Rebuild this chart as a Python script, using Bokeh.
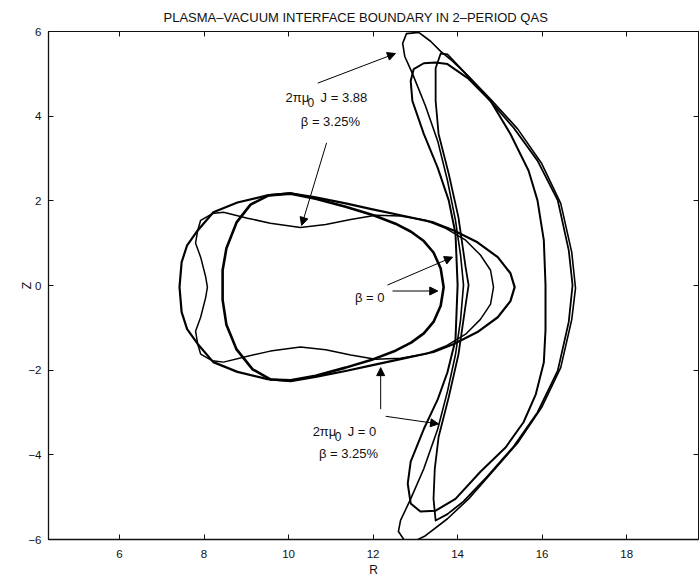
from bokeh.plotting import figure
from bokeh.models import (Range1d, LinearAxis, FixedTicker, Label, Arrow, NormalHead)
from bokeh.embed import file_html
from bokeh.resources import INLINE

# ---- Boundary cross-sections (R, Z) ----
# phi = 0 ("bean") sections
bean_vac_R = [13.67, 13.60, 13.43, 13.20, 12.90, 12.53, 12.01, 11.35, 10.64, 10.05,
              9.53, 9.10, 8.77, 8.53, 8.44, 8.44, 8.53, 8.77, 9.15, 9.57, 10.05,
              10.64, 11.35, 12.01, 12.53, 12.90, 13.20, 13.43, 13.60]
bean_vac_Z = [-0.04, 0.40, 0.78, 1.05, 1.27, 1.46, 1.66, 1.86, 2.05, 2.17,
              2.13, 1.91, 1.49, 0.88, 0.36, -0.34, -0.93, -1.51, -1.98, -2.22, -2.24,
              -2.13, -1.94, -1.74, -1.54, -1.35, -1.13, -0.86, -0.48]

bean_j0_R = [15.35, 15.25, 14.95, 14.47, 13.91, 13.43, 12.65, 11.99, 11.35, 10.64, 10.05,
             9.50, 8.79, 8.22, 7.85, 7.60, 7.47, 7.42,
             7.47, 7.60, 7.85, 8.22, 8.79, 9.50, 10.05, 10.64, 11.35, 11.99, 12.65,
             13.43, 13.91, 14.47, 14.95, 15.25]
bean_j0_Z = [-0.04, 0.29, 0.67, 1.02, 1.30, 1.49, 1.66, 1.80, 1.94, 2.08, 2.18,
             2.13, 1.96, 1.73, 1.30, 0.95, 0.55, -0.04,
             -0.63, -1.03, -1.38, -1.81, -2.04, -2.21, -2.26, -2.16, -2.02, -1.88, -1.74,
             -1.57, -1.38, -1.10, -0.75, -0.37]

bean_j388_R = [14.85, 14.78, 14.54, 14.19, 13.72, 13.24, 12.65, 12.06, 11.47, 10.88, 10.28,
               9.57, 9.03, 8.46, 8.20, 7.92, 7.85, 7.80, 7.92, 8.04, 8.08,
               8.04, 7.92, 7.80, 7.85, 7.92, 8.20, 8.46, 9.03, 9.57, 10.28,
               10.88, 11.47, 12.06, 12.65, 13.24, 13.72, 14.19, 14.54, 14.78]
bean_j388_Z = [-0.04, 0.36, 0.72, 1.07, 1.35, 1.54, 1.64, 1.66, 1.56, 1.44, 1.37,
               1.47, 1.59, 1.73, 1.70, 1.54, 1.30, 1.00, 0.67, 0.20, -0.04,
               -0.28, -0.75, -1.08, -1.38, -1.62, -1.78, -1.81, -1.67, -1.55, -1.45,
               -1.52, -1.64, -1.74, -1.72, -1.62, -1.43, -1.15, -0.80, -0.44]

# half-period ("crescent") sections
cres_vac_R = [14.00, 13.95, 13.79, 13.53, 13.20, 12.93, 12.89, 12.96, 13.20, 13.48, 13.76,
              14.24, 14.78, 15.25, 15.68, 15.89, 16.04, 16.08,
              16.08, 16.04, 15.85, 15.56, 15.14, 14.54, 13.95, 13.48, 13.12, 12.89,
              12.82, 12.89, 13.20, 13.53, 13.76, 13.95]
cres_vac_Z = [0.01, 1.23, 2.01, 2.78, 3.58, 4.36, 4.83, 5.11, 5.25, 5.27, 5.23,
              4.90, 4.36, 3.58, 2.71, 2.01, 1.07, 0.01,
              -1.05, -1.82, -2.57, -3.23, -3.82, -4.40, -5.04, -5.32, -5.34, -5.15,
              -4.68, -4.16, -3.39, -2.69, -2.05, -1.28]

cres_j0_R = [14.26, 14.19, 14.02, 13.79, 13.55, 13.48, 13.48, 13.60, 13.76, 14.14, 14.71,
             15.33, 15.89, 16.37, 16.63, 16.72, 16.63, 16.37, 15.89, 15.33, 14.71, 14.14,
             13.76, 13.48, 13.43, 13.46, 13.55, 13.79, 14.02, 14.19]
cres_j0_Z = [0.01, 0.43, 1.61, 2.64, 3.58, 4.36, 5.13, 5.48, 5.46, 5.06, 4.43,
             3.72, 2.95, 2.01, 0.83, 0.01, -0.86, -2.01, -3.00, -3.80, -4.50, -5.10,
             -5.40, -5.55, -5.04, -4.33, -3.58, -2.64, -1.63, -0.46]

cres_j388_R = [14.14, 14.07, 13.95, 13.76, 13.53, 13.24, 12.93, 12.75, 12.70, 12.79, 13.08,
               13.36, 13.60, 13.88, 14.26, 14.80, 15.42, 15.99, 16.44, 16.70, 16.79,
               16.70, 16.44, 15.99, 15.42, 14.80, 14.26, 13.76, 13.24, 12.96, 12.75,
               12.60, 12.65, 12.89, 13.20, 13.53, 13.76, 13.95, 14.07]
cres_j388_Z = [0.01, 0.72, 1.54, 2.48, 3.41, 4.24, 5.01, 5.41, 5.72, 5.95, 5.98,
               5.77, 5.53, 5.30, 4.94, 4.38, 3.70, 2.88, 1.94, 0.79, -0.06,
               -0.81, -1.94, -2.88, -3.72, -4.43, -5.04, -5.51, -5.91, -6.05, -6.03,
               -5.81, -5.55, -5.04, -4.33, -3.39, -2.50, -1.63, -0.81]

x_ticks = [6, 8, 10, 12, 14, 16, 18]
y_ticks = [-6, -4, -2, 0, 2, 4, 6]

FONT = "Liberation Sans"
INK = "#111111"

p = figure(width=699, height=579,
           x_range=Range1d(4.32, 19.7), y_range=Range1d(-6, 6),
           output_backend="svg", toolbar_location=None,
           min_border_left=48, min_border_right=1,
           min_border_top=30, min_border_bottom=38)

p.background_fill_color = "white"
p.border_fill_color = "white"
p.grid.visible = False
p.outline_line_color = INK
p.outline_line_width = 1

p.title.text = "PLASMA\u2013VACUUM INTERFACE BOUNDARY IN 2\u2013PERIOD QAS"
p.title.text_font = FONT
p.title.text_font_size = "13px"
p.title.text_font_style = "normal"
p.title.text_color = INK
p.title.align = "left"
p.title.offset = 115
p.title.standoff = 14

def style_axis(ax, labels=True):
    ax.axis_line_color = INK
    ax.axis_line_width = 1.3
    ax.major_tick_in = 5
    ax.major_tick_out = 0
    ax.major_tick_line_color = INK
    ax.minor_tick_line_color = None
    ax.major_label_text_font = FONT
    ax.major_label_text_font_size = "11.5px"
    ax.major_label_text_color = INK
    ax.axis_label_text_font = FONT
    ax.axis_label_text_font_size = "12px"
    ax.axis_label_text_font_style = "normal"
    ax.axis_label_text_color = INK
    if not labels:
        # frame-side ticks only, no numbers on this side
        ax.major_label_text_font_size = "1px"
        ax.major_label_text_color = None
        ax.major_label_standoff = 0

p.xaxis.ticker = FixedTicker(ticks=x_ticks)
p.yaxis.ticker = FixedTicker(ticks=y_ticks)
style_axis(p.xaxis[0])
style_axis(p.yaxis[0])
p.xaxis.axis_label = "R"
p.yaxis.axis_label = "Z"
p.xaxis.major_label_standoff = 10
p.xaxis.axis_label_standoff = 2
p.yaxis.major_label_standoff = 7
p.yaxis.axis_label_standoff = -9

top_ax = LinearAxis(ticker=FixedTicker(ticks=x_ticks))
right_ax = LinearAxis(ticker=FixedTicker(ticks=y_ticks))
style_axis(top_ax, labels=False)
style_axis(right_ax, labels=False)
top_ax.axis_line_width = 1
right_ax.axis_line_width = 1
p.add_layout(top_ax, "above")
p.add_layout(right_ax, "right")

# ---- boundaries ----
def boundary(R, Z, width):
    p.patch(R, Z, fill_color=None, line_color="black", line_width=width,
            line_join="round")

boundary(bean_vac_R, bean_vac_Z, 2.6)
boundary(bean_j0_R, bean_j0_Z, 2.2)
boundary(bean_j388_R, bean_j388_Z, 1.5)
boundary(cres_vac_R, cres_vac_Z, 2.0)
boundary(cres_j0_R, cres_j0_Z, 1.8)
boundary(cres_j388_R, cres_j388_Z, 1.6)

# ---- annotations ----
def text(x, y, s, align="center", dx=0, dy=0, size="13px"):
    p.add_layout(Label(x=x, y=y, text=s, text_font=FONT, text_font_size=size,
                       text_color=INK, text_align=align, text_baseline="middle",
                       x_offset=dx, y_offset=dy))

# 2*pi*mu0 J = 3.88, beta = 3.25%
text(9.93, 4.43, "2\u03c0\u03bc", align="left")
text(9.93, 4.43, "0", align="left", dx=22, dy=-5, size="12px")
text(9.93, 4.43, "J = 3.88", align="left", dx=35)
text(10.99, 3.88, "\u03b2 = 3.25%")

# beta = 0
text(11.92, -0.29, "\u03b2 = 0")

# 2*pi*mu0 J = 0, beta = 3.25%
text(10.57, -3.44, "2\u03c0\u03bc", align="left")
text(10.57, -3.44, "0", align="left", dx=22, dy=-5, size="12px")
text(10.57, -3.44, "J = 0", align="left", dx=35)
text(11.42, -3.98, "\u03b2 = 3.25%")

arrows = [
    (10.69, 4.78, 12.53, 5.48),
    (10.90, 3.37, 10.31, 1.42),
    (12.34, 0.01, 13.88, 0.67),
    (12.46, -0.13, 13.53, -0.13),
    (12.30, -3.09, 13.55, -3.27),
    (12.18, -2.92, 12.18, -1.94),
]
for xs, ys, xe, ye in arrows:
    p.add_layout(Arrow(end=NormalHead(size=8, fill_color="black", line_color="black",
                                      line_width=1),
                       x_start=xs, y_start=ys, x_end=xe, y_end=ye,
                       line_color="black", line_width=1))

open("out.html", "w").write(file_html(p, INLINE))
